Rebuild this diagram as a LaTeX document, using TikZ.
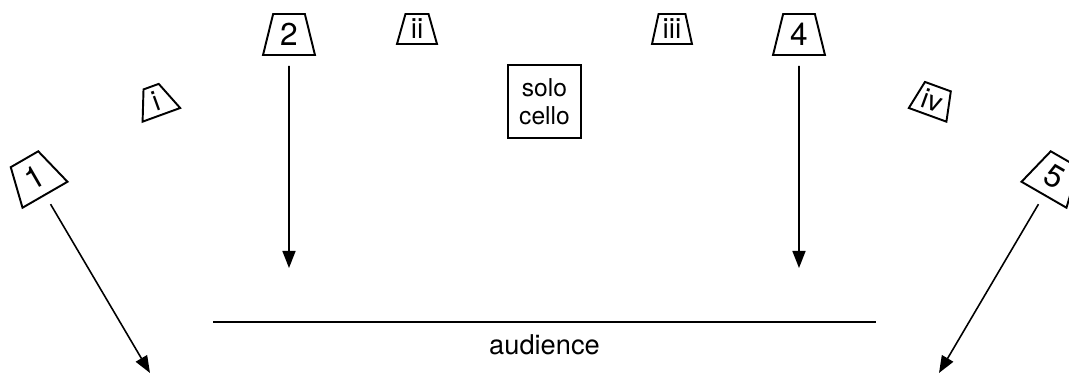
\documentclass[tikz,border=0pt]{standalone}
\usepackage{fontspec}
\setmainfont{TeX Gyre Heros}
\usepackage{tikz}
\usetikzlibrary{arrows.meta,positioning,calc,shapes.geometric}

\begin{document}
\begin{tikzpicture}[
    line width=0.9pt,
    bigspk/.style={trapezium, draw, line width=1.1pt, trapezium stretches=true, trapezium left angle=76, trapezium right angle=76, minimum width=1.04cm, minimum height=0.82cm, inner sep=0pt, font=\fontsize{18}{20}\selectfont},
    smallspk/.style={trapezium, draw, line width=1.1pt, trapezium stretches=true, trapezium left angle=77, trapezium right angle=77, minimum width=0.8cm, minimum height=0.6cm, inner sep=0pt, font=\fontsize{16}{18}\selectfont},
    feed/.style={-{Triangle[length=0.34cm,width=0.26cm]}, shorten <=0.2cm}
]
\useasboundingbox (0,0) rectangle (21.38,7.48);

% Speakers
\node [bigspk, rotate=30] (spkone) at (0.695,3.94) {1};
\node [bigspk] (spktwo) at (5.78,6.79) {2};
\node [bigspk] (spkfour) at (15.98,6.79) {4};
\node [bigspk, rotate=-30] (spkfive) at (21.085,3.94) {5};

\node [smallspk, rotate=20] (spki) at (3.125,5.465) {i};
\node [smallspk] (spkii) at (8.34,6.9) {ii};
\node [smallspk] (spkiii) at (13.44,6.9) {iii};
\node [smallspk, rotate=-20] (spkiv) at (18.655,5.465) {iv};

\node [draw, line width=1.1pt, minimum width=1.46cm, minimum height=1.46cm, inner sep=0pt, align=center, font=\fontsize{14}{16}\selectfont] (cello) at (10.89,5.45) {solo\\cello};

% Audience
\coordinate (audleft) at (4.26,1.04);
\coordinate (audright) at (17.52,1.04);
\draw (audleft) -- (audright);
\node [inner sep=0pt, anchor=base, font=\fontsize{15.5}{18}\selectfont] (aud) at (10.89,0.38) {audience};

% Feed Arrows
\coordinate (tone) at (3.0,0.02);
\coordinate (ttwo) at (5.78,2.12);
\coordinate (tfour) at (15.98,2.12);
\coordinate (tfive) at (18.78,0.02);
\draw [feed] (spkone.south) -- (tone);
\draw [feed] (spktwo.south) -- (ttwo);
\draw [feed] (spkfour.south) -- (tfour);
\draw [feed] (spkfive.south) -- (tfive);

\end{tikzpicture}
\end{document}
